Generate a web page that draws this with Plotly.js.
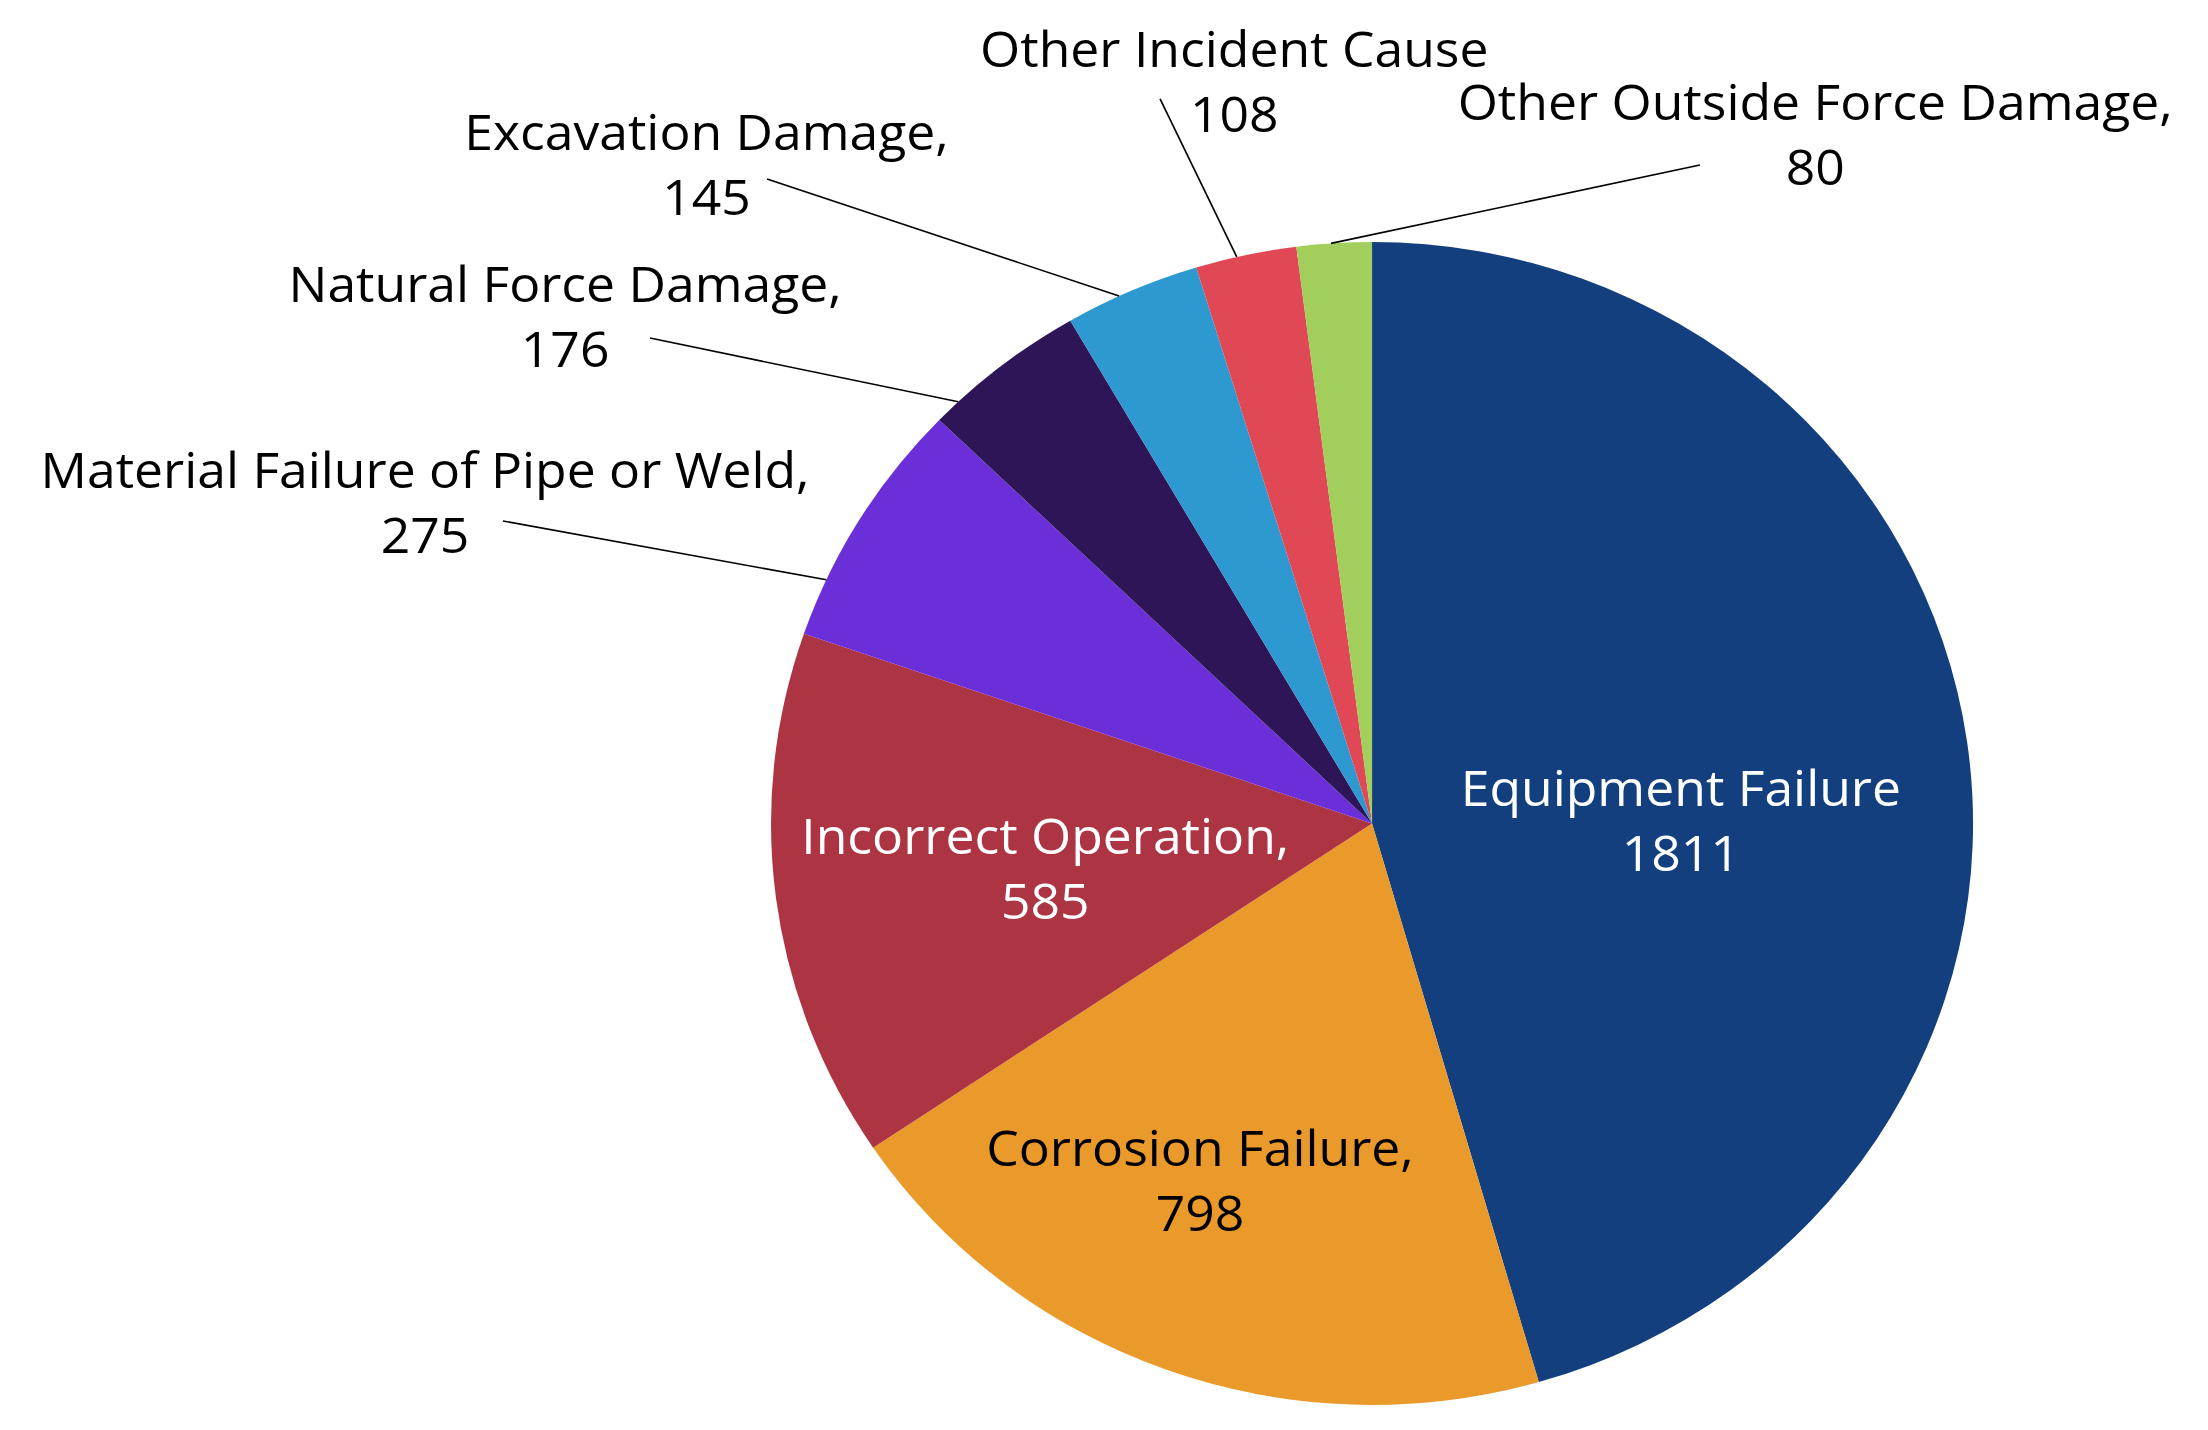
<!DOCTYPE html>
<html>
<head>
<meta charset="utf-8">
<script src="https://cdn.plot.ly/plotly-3.0.1.min.js"></script>
<style>
  html, body { margin: 0; padding: 0; background: #fff; overflow: hidden; }
  /* the reference picture is stretched a little wider than tall */
  #plot { width: 2136px; height: 1430px; transform: scaleX(1.0337); transform-origin: 0 0; }
</style>
</head>
<body>
<div id="plot"></div>
<script>
let causes = ['Equipment Failure', 'Corrosion Failure', 'Incorrect Operation',
    'Material Failure of Pipe or Weld', 'Natural Force Damage', 'Excavation Damage',
    'Other Incident Cause', 'Other Outside Force Damage'];
let incidents = [1811, 798, 585, 275, 176, 145, 108, 80];
let separators = ['', ',', ',', ',', ',', ',', '', ','];
let colors = ['#133f7f', '#e99a2b', '#ad3443', '#6a2fd8', '#2e1558', '#2e98d0', '#e14856', '#a2ce5c'];

let W = 2136, H = 1430;
let domain = {x: [0.3492, 0.8936], y: [0.0175, 0.8308]};

// label centres (paper coords) and text colours
let labelPos = [
    [0.7613, 0.4266, 'white'],
    [0.5435, 0.1755, 'black'],
    [0.4733, 0.3937, 'white'],
    [0.1925, 0.6490, 'black'],
    [0.2559, 0.7797, 'black'],
    [0.3202, 0.8860, 'black'],
    [0.5589, 0.9434, 'black'],
    [0.8220, 0.9063, 'black']
];

// leader lines: start point (paper) and where along the slice they touch the rim
let leaders = {
    3: [0.2278, 0.6357, 0.23],
    4: [0.2944, 0.7636, 0.16],
    5: [0.3474, 0.8748, 0.40],
    6: [0.5254, 0.9308, 0.41],
    7: [0.7699, 0.8846, 0.46]
};

let total = incidents.reduce((a, b) => a + b, 0);
let cx = (domain.x[0] + domain.x[1]) / 2;
let cy = (domain.y[0] + domain.y[1]) / 2;
let r = Math.min(W * (domain.x[1] - domain.x[0]), H * (domain.y[1] - domain.y[0])) / 2;

let annotations = [];
let shapes = [];
let cum = 0;
for (var i = 0; i < causes.length; i++)
{
    let start = cum / total * 2 * Math.PI;
    cum += incidents[i];
    let end = cum / total * 2 * Math.PI;

    annotations.push({
        xref: 'paper', yref: 'paper',
        x: labelPos[i][0], y: labelPos[i][1],
        xanchor: 'center', yanchor: 'middle',
        text: causes[i] + separators[i] + '<br>' + incidents[i],
        showarrow: false,
        align: 'center',
        font: {family: 'Open Sans', size: 50, color: labelPos[i][2]}
    });

    if (leaders[i])
    {
        let a = start + leaders[i][2] * (end - start);
        shapes.push({
            type: 'line', xref: 'paper', yref: 'paper',
            x0: leaders[i][0], y0: leaders[i][1],
            x1: cx + r * Math.sin(a) / W,
            y1: cy + r * Math.cos(a) / H,
            line: {color: '#000', width: 1.6}
        });
    }
}

let trace = {
    type: 'pie',
    labels: causes,
    values: incidents,
    marker: {colors: colors, line: {width: 0}},
    sort: false,
    direction: 'clockwise',
    rotation: 0,
    textinfo: 'none',
    hoverinfo: 'label+value',
    domain: domain,
    showlegend: false
};

let layout = {
    width: W,
    height: H,
    margin: {l: 0, r: 0, t: 0, b: 0},
    paper_bgcolor: '#fff',
    showlegend: false,
    annotations: annotations,
    shapes: shapes
};

Plotly.newPlot('plot', [trace], layout, {displayModeBar: false, staticPlot: true});
</script>
</body>
</html>
